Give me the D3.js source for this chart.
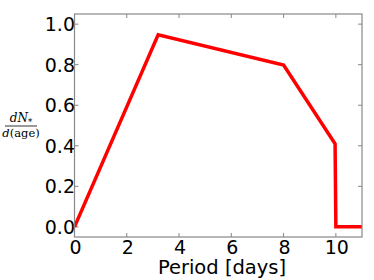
<!DOCTYPE html>
<html>
<head>
<meta charset="utf-8">
<script src="https://cdn.jsdelivr.net/npm/d3@7"></script>
<style>
  body { margin: 0; background: #fff; }
  svg { display: block; }
</style>
</head>
<body>
<div id="chart"></div>
<script>
// values
const periods = [0, 3.2, 8, 9.97, 10, 11]
const rates = [0, 0.948, 0.798, 0.41, 0, 0]
const xTicks = [0, 2, 4, 6, 8, 10]
const yTicks = [0.0, 0.2, 0.4, 0.6, 0.8, 1.0]

const width = 374
const height = 280
const margin = { top: 14, right: 12, bottom: 43, left: 74.5 }

const svg = d3.select('#chart').append('svg')
  .attr('width', width)
  .attr('height', height)

const x = d3.scaleLinear().domain([0, 11]).range([margin.left, width - margin.right])
const y = d3.scaleLinear().domain([-0.05, 1.05]).range([height - margin.bottom, margin.top])

const frame = '#888888'

// ticks pointing inward on all four sides
const g = svg.append('g')
g.selectAll('.xt')
  .data(xTicks)
  .join('g')
  .each(function (d) {
    const s = d3.select(this)
    s.append('line').attr('x1', x(d)).attr('x2', x(d))
      .attr('y1', y.range()[0]).attr('y2', y.range()[0] - 4).attr('stroke', frame)
    s.append('line').attr('x1', x(d)).attr('x2', x(d))
      .attr('y1', y.range()[1]).attr('y2', y.range()[1] + 4).attr('stroke', frame)
  })
g.selectAll('.yt')
  .data(yTicks)
  .join('g')
  .each(function (d) {
    const s = d3.select(this)
    s.append('line').attr('x1', x.range()[0]).attr('x2', x.range()[0] + 4)
      .attr('y1', y(d)).attr('y2', y(d)).attr('stroke', frame)
    s.append('line').attr('x1', x.range()[1]).attr('x2', x.range()[1] - 4)
      .attr('y1', y(d)).attr('y2', y(d)).attr('stroke', frame)
  })

// tick labels
svg.selectAll('.xl')
  .data(xTicks)
  .join('text')
  .attr('x', d => x(d) + 1)
  .attr('y', 254)
  .attr('text-anchor', 'middle')
  .style('font', '19px "DejaVu Sans"')
  .text(d => d)

svg.selectAll('.yl')
  .data(yTicks)
  .join('text')
  .attr('x', 75)
  .attr('y', d => y(d) + 7)
  .attr('text-anchor', 'end')
  .style('font', '19px "DejaVu Sans"')
  .text(d => d.toFixed(1))

// the curve
const line = d3.line()
  .x((d, i) => x(periods[i]))
  .y(d => y(d))

svg.append('path')
  .datum(rates)
  .attr('d', line)
  .attr('fill', 'none')
  .attr('stroke', '#ff0000')
  .attr('stroke-width', 3.5)
  .attr('stroke-linejoin', 'miter')

// frame
svg.append('rect')
  .attr('x', x.range()[0])
  .attr('y', y.range()[1])
  .attr('width', x.range()[1] - x.range()[0])
  .attr('height', y.range()[0] - y.range()[1])
  .attr('fill', 'none')
  .attr('stroke', frame)
  .attr('stroke-width', 1.2)

// axis titles
svg.append('text')
  .attr('x', 222)
  .attr('y', 274)
  .attr('text-anchor', 'middle')
  .style('font', '19.5px "DejaVu Sans"')
  .text('Period [days]')

const yl = svg.append('g').attr('transform', 'translate(21,126)')
  .style('font-family', '"DejaVu Serif"')
const num = yl.append('text').attr('y', -4).attr('text-anchor', 'middle').style('font-size', '12px')
num.append('tspan').style('font-style', 'italic').text('dN')
num.append('tspan').attr('dy', 3).style('font-size', '8.5px').text('*')
yl.append('line').attr('x1', -16).attr('x2', 16).attr('stroke', '#000').attr('stroke-width', 0.8)
const den = yl.append('text').attr('y', 11).attr('text-anchor', 'middle').style('font-size', '11.5px')
den.append('tspan').style('font-style', 'italic').text('d')
den.append('tspan').text('(age)')
</script>
</body>
</html>
